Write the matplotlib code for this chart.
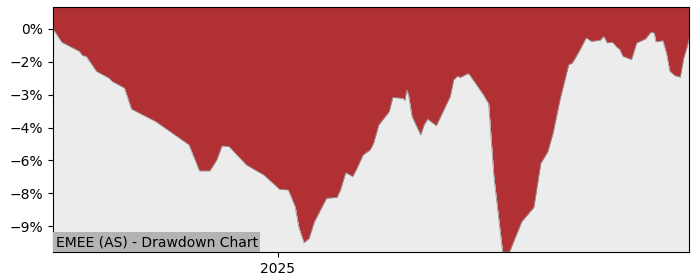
import matplotlib
matplotlib.use("Agg")
import matplotlib.pyplot as plt
import matplotlib.dates as mdates
from matplotlib.ticker import PercentFormatter, MultipleLocator
import pandas as pd
import numpy as np

dates = [
    "2024-08-25", "2024-08-30", "2024-09-09", "2024-09-11", "2024-09-13", "2024-09-19",
    "2024-09-26", "2024-09-28", "2024-10-05", "2024-10-09", "2024-10-23", "2024-11-11",
    "2024-11-17", "2024-11-23", "2024-11-27", "2024-11-30", "2024-12-04", "2024-12-14",
    "2024-12-24", "2025-01-02", "2025-01-07", "2025-01-11", "2025-01-13", "2025-01-16",
    "2025-01-19", "2025-01-22", "2025-01-29", "2025-02-04", "2025-02-06", "2025-02-09",
    "2025-02-13", "2025-02-15", "2025-02-19", "2025-02-23", "2025-02-25", "2025-02-28",
    "2025-03-06", "2025-03-08", "2025-03-14", "2025-03-15", "2025-03-16", "2025-03-17",
    "2025-03-19", "2025-03-24", "2025-03-26", "2025-03-28", "2025-04-02", "2025-04-10",
    "2025-04-12", "2025-04-14", "2025-04-16", "2025-04-20", "2025-04-21", "2025-04-29",
    "2025-05-02", "2025-05-05", "2025-05-10", "2025-05-14", "2025-05-21", "2025-05-28",
    "2025-06-01", "2025-06-05", "2025-06-08", "2025-06-12", "2025-06-17", "2025-06-19",
    "2025-06-23", "2025-06-27", "2025-06-30", "2025-07-05", "2025-07-07", "2025-07-09",
    "2025-07-12", "2025-07-15", "2025-07-16", "2025-07-18", "2025-07-23", "2025-07-26",
    "2025-07-31", "2025-08-03", "2025-08-05", "2025-08-06", "2025-08-10", "2025-08-12",
    "2025-08-14", "2025-08-17", "2025-08-20", "2025-08-22", "2025-08-24", "2025-08-25",
]
drawdown_pct = [
    0.00, -0.61, -1.02, -1.22, -1.25, -1.94,
    -2.24, -2.40, -2.70, -3.66, -4.23, -5.29,
    -6.48, -6.48, -5.98, -5.34, -5.37, -6.21,
    -6.67, -7.32, -7.35, -8.12, -9.03, -9.76,
    -9.56, -8.80, -7.73, -7.69, -7.35, -6.56,
    -6.74, -6.44, -5.75, -5.52, -5.22, -4.38,
    -3.77, -3.13, -3.17, -3.27, -2.78, -3.01,
    -4.00, -4.84, -4.38, -4.12, -4.42, -3.08,
    -2.32, -2.17, -2.21, -2.04, -2.09, -3.01,
    -3.42, -6.74, -10.18, -10.18, -8.80, -8.14,
    -6.13, -5.60, -4.76, -3.23, -1.63, -1.56,
    -1.02, -0.41, -0.57, -0.52, -0.34, -0.64,
    -0.61, -0.87, -0.91, -1.25, -1.40, -0.64,
    -0.46, -0.16, -0.18, -0.59, -0.54, -1.10,
    -1.94, -2.14, -2.20, -1.33, -0.80, -0.46,
]
title = "EMEE (AS) - Drawdown Chart"

x = pd.to_datetime(dates)
y = np.array(drawdown_pct)

fig = plt.figure(figsize=(7, 2.8), dpi=100)
ax = fig.add_axes([0.0757, 0.1, 0.9086, 0.875])

ymin, ymax = y.min(), 1.0
ax.fill_between(x, y, ymax, color="#b03033", linewidth=0)
ax.fill_between(x, ymin, y, color="#ececec", linewidth=0)
ax.plot(x, y, color="#9a9a9a", linewidth=0.6)

ax.set_xlim(x[0], x[-1])
ax.set_ylim(ymin, ymax)
ax.yaxis.set_major_locator(MultipleLocator(1.5))
ax.yaxis.set_major_formatter(PercentFormatter(decimals=0))
ax.xaxis.set_major_locator(mdates.YearLocator())
ax.xaxis.set_major_formatter(mdates.DateFormatter("%Y"))

ax.text(0.004, 0.012, title, transform=ax.transAxes, fontsize=10,
        ha="left", va="bottom",
        bbox=dict(facecolor="#b3b3b3", edgecolor="none", pad=2))

fig.savefig("out.png", dpi=100)
